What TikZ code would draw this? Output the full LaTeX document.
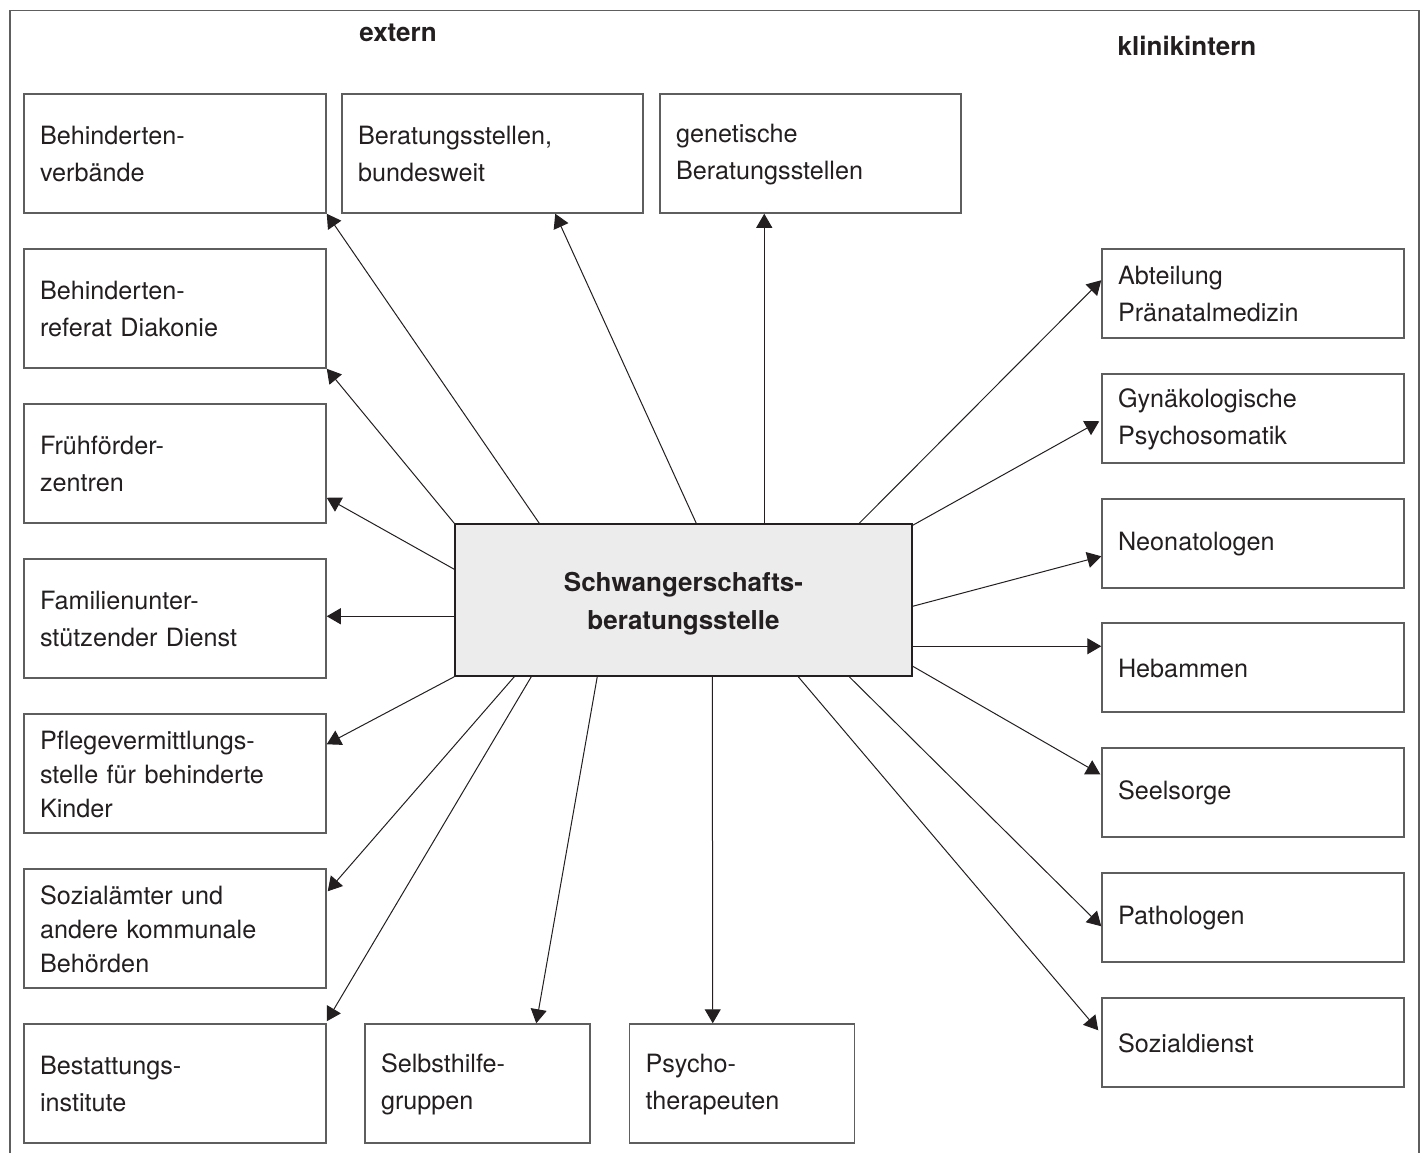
\documentclass[tikz,border=0pt]{standalone}
\usepackage{fontspec}
\setmainfont{TeX Gyre Heros}
\usetikzlibrary{arrows.meta,calc}
\definecolor{ink}{HTML}{231F20}
\definecolor{boxgray}{HTML}{5E5E5E}
\definecolor{cfill}{HTML}{ECECEC}
\begin{document}
\begin{tikzpicture}[x=0.5pt,y=-0.5pt,
  box/.style={draw=boxgray,line width=0.75pt,minimum width=151pt,minimum height=59.5pt,
    text width=135pt,inner xsep=8pt,inner ysep=0pt,align=left,
    font=\fontsize{12.6}{18.5}\selectfont,text=ink},
  box3/.style={box,font=\fontsize{12.6}{17}\selectfont},
  topbox/.style={box,minimum width=150.5pt,text width=134.5pt},
  botbox/.style={box,minimum width=112.5pt,text width=96.5pt},
  rbox/.style={box,minimum height=44.5pt},
  center/.style={draw=ink,line width=0.75pt,fill=cfill,minimum width=228.5pt,minimum height=76pt,
    align=center,font=\bfseries\fontsize{13}{19}\selectfont,text=ink},
  head/.style={font=\bfseries\fontsize{13}{16}\selectfont,text=ink},
  arr/.style={draw=ink,line width=0.5pt,-{Triangle[length=7pt,width=8pt]}},
  frame/.style={draw=boxgray,line width=0.75pt}]
\useasboundingbox (0,0) rectangle (1427,1153);
\draw[frame] (10,1153) -- (10,10.5) -- (1419,10.5) -- (1419,1153);

\node[head] (hext) at (398,33) {extern};
\node[head] (hkli) at (1187,46) {klinikintern};

% left column
\node[box] (bv) at (175,153.5) {\rule{0pt}{10pt}Behinderten-\\verbände};
\node[box] (dk) at (175,308.5) {\rule{0pt}{10pt}Behinderten-\\referat Diakonie};
\node[box] (ff) at (175,463.5) {\rule{0pt}{10pt}Frühförder-\\zentren};
\node[box] (fam) at (175,618.5) {\rule{0pt}{10pt}Familienunter-\\stützender Dienst};
\node[box3] (pf) at (175,773.5) {\rule{0pt}{10pt}Pflegevermittlungs-\\stelle für behinderte\\Kinder};
\node[box3] (so) at (175,928.5) {\rule{0pt}{10pt}Sozialämter und\\andere kommunale\\Behörden};
\node[box] (be) at (175,1083.5) {\rule{0pt}{10pt}Bestattungs-\\institute};

% top row
\node[topbox] (bs) at (492.5,153.5) {\rule{0pt}{10pt}Beratungsstellen,\\bundesweit};
\node[topbox] (gb) at (810.5,153.5) {\rule{0pt}{10pt}genetische\\Beratungsstellen};

% bottom row
\node[botbox] (sh) at (477.5,1083.5) {\rule{0pt}{10pt}Selbsthilfe-\\gruppen};
\node[botbox] (ps) at (742,1083.5) {\rule{0pt}{10pt}Psycho-\\therapeuten};

% right column
\node[rbox] (ab) at (1253,293.5) {\rule{0pt}{10pt}Abteilung\\Pränatalmedizin};
\node[rbox] (gy) at (1253,418.5) {\rule{0pt}{10pt}Gynäkologische\\Psychosomatik};
\node[rbox] (ne) at (1253,543.5) {\rule{0pt}{10pt}Neonatologen};
\node[rbox] (hb) at (1253,667.5) {\rule{0pt}{10pt}Hebammen};
\node[rbox] (se) at (1253,792.5) {\rule{0pt}{10pt}Seelsorge};
\node[rbox] (pa) at (1253,917.5) {\rule{0pt}{10pt}Pathologen};
\node[rbox] (sd) at (1253,1042.5) {\rule{0pt}{10pt}Sozialdienst};

% center
\node[center] (c) at (683.5,600) {\rule{0pt}{13pt}Schwangerschafts-\\beratungsstelle};

% connectors
\draw[arr] ($(c.north west)+(85,0)$) -- (bv.south east);
\draw[arr] (c.north west) -- (dk.south east);
\draw[arr] ($(c.north west)+(0,46)$) -- ($(ff.south east)+(0,-26)$);
\draw[arr] ($(c.north west)+(0,93)$) -- ($(fam.north east)+(0,58)$);
\draw[arr] (c.south west) -- ($(pf.north east)+(0,31)$);
\draw[arr] ($(c.south west)+(60,0)$) -- ($(so.north east)+(1,23)$);
\draw[arr] ($(c.south west)+(77,0)$) -- ($(be.north east)+(0,-2)$);
\draw[arr] ($(c.south west)+(143,0)$) -- ($(sh.north west)+(172,0)$);
\draw[arr] ($(c.south west)+(258,0)$) -- ($(ps.north west)+(84,0)$);
\draw[arr] ($(c.north west)+(242,0)$) -- ($(bs.south west)+(214,0)$);
\draw[arr] ($(c.north west)+(310,0)$) -- ($(gb.south west)+(105,0)$);
\draw[arr] ($(c.north west)+(405,0)$) -- ($(ab.north west)+(0,32)$);
\draw[arr] ($(c.north east)+(0,2)$) -- ($(gy.north west)+(-2,48)$);
\draw[arr] ($(c.north east)+(0,83)$) -- ($(ne.north west)+(0,58)$);
\draw[arr] ($(c.north east)+(0,123)$) -- ($(hb.north west)+(0,24)$);
\draw[arr] ($(c.north east)+(0,143)$) -- ($(se.north west)+(-1,27)$);
\draw[arr] ($(c.south west)+(395,0)$) -- ($(pa.north west)+(0,54)$);
\draw[arr] ($(c.south west)+(344,0)$) -- ($(sd.north west)+(-3,33)$);
\end{tikzpicture}
\end{document}
